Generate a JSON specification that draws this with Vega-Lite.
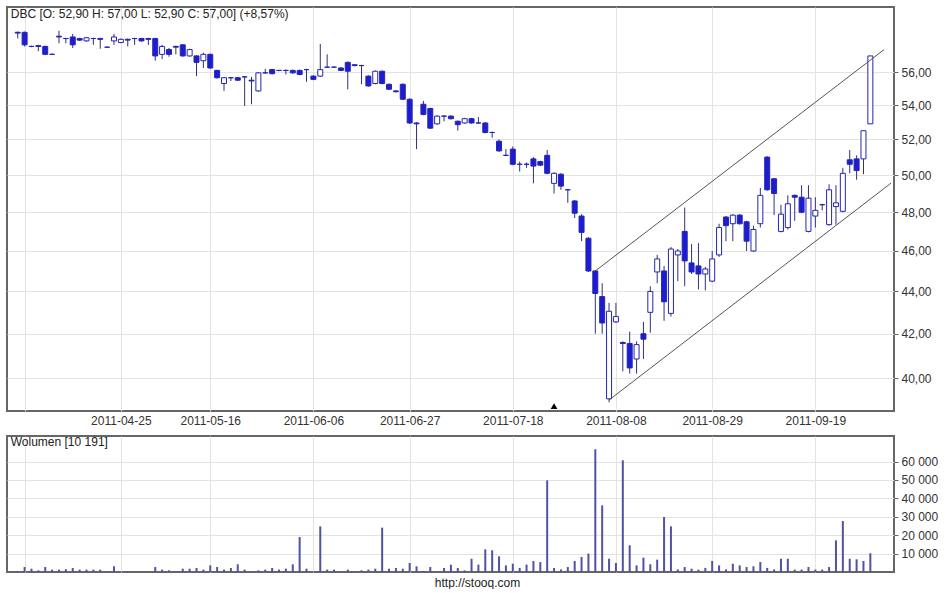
{
"$schema":"https://vega.github.io/schema/vega-lite/v6.json",
"padding":{"left":6,"top":6,"right":0,"bottom":0},
"background":"white",
"spacing":8,
"config":{
 "font":"Liberation Sans",
 "view":{"stroke":"#666666","strokeWidth":2},
 "axis":{"labelFont":"Liberation Sans","labelFontSize":12,"labelColor":"#333333","gridColor":"#e3e3e3","gridWidth":1,"domain":false,"tickColor":"#666666","titleFont":"Liberation Sans","labelOverlap":false}
},
"datasets":{
"px":[
{"date":"2011-04-01","open":58.5,"high":58.55,"low":58.1,"close":58.45,"volume":400},
{"date":"2011-04-04","open":58.5,"high":58.55,"low":57.6,"close":57.7,"volume":2700},
{"date":"2011-04-05","open":57.6,"high":57.65,"low":57.55,"close":57.6,"volume":1800},
{"date":"2011-04-06","open":57.65,"high":57.7,"low":57.3,"close":57.6,"volume":900},
{"date":"2011-04-07","open":57.6,"high":57.65,"low":57.05,"close":57.1,"volume":2700},
{"date":"2011-04-08","open":57.1,"high":57.15,"low":57.05,"close":57.1,"volume":1300},
{"date":"2011-04-11","open":58.25,"high":58.6,"low":57.8,"close":58.2,"volume":1300},
{"date":"2011-04-12","open":58.1,"high":58.15,"low":57.8,"close":58.1,"volume":1500},
{"date":"2011-04-13","open":58.2,"high":58.4,"low":57.5,"close":57.7,"volume":2200},
{"date":"2011-04-14","open":58.1,"high":58.15,"low":57.95,"close":58.0,"volume":1300},
{"date":"2011-04-15","open":57.95,"high":58.2,"low":57.9,"close":58.15,"volume":1300},
{"date":"2011-04-18","open":58.1,"high":58.15,"low":57.7,"close":58.1,"volume":1300},
{"date":"2011-04-19","open":58.1,"high":58.15,"low":57.45,"close":58.05,"volume":1300},
{"date":"2011-04-20","open":57.55,"high":57.6,"low":57.5,"close":57.55,"volume":300},
{"date":"2011-04-21","open":57.95,"high":58.4,"low":57.7,"close":58.2,"volume":3100},
{"date":"2011-04-26","open":57.85,"high":58.1,"low":57.8,"close":58.05,"volume":300},
{"date":"2011-04-27","open":58.05,"high":58.1,"low":57.6,"close":58.0,"volume":300},
{"date":"2011-04-28","open":58.1,"high":58.15,"low":57.7,"close":58.1,"volume":300},
{"date":"2011-04-29","open":58.1,"high":58.15,"low":57.9,"close":57.95,"volume":300},
{"date":"2011-05-02","open":58.1,"high":58.15,"low":57.7,"close":58.05,"volume":300},
{"date":"2011-05-04","open":58.1,"high":58.15,"low":56.7,"close":57.0,"volume":2700},
{"date":"2011-05-05","open":57.1,"high":57.7,"low":56.8,"close":57.6,"volume":1300},
{"date":"2011-05-06","open":57.4,"high":57.5,"low":56.95,"close":57.1,"volume":900},
{"date":"2011-05-09","open":57.6,"high":57.65,"low":57.1,"close":57.55,"volume":300},
{"date":"2011-05-10","open":57.7,"high":57.75,"low":56.95,"close":57.0,"volume":1800},
{"date":"2011-05-11","open":57.0,"high":57.45,"low":56.95,"close":57.4,"volume":1800},
{"date":"2011-05-12","open":57.0,"high":57.05,"low":55.75,"close":56.6,"volume":2200},
{"date":"2011-05-13","open":56.7,"high":57.2,"low":56.25,"close":57.1,"volume":1300},
{"date":"2011-05-16","open":57.1,"high":57.15,"low":56.2,"close":56.25,"volume":3600},
{"date":"2011-05-17","open":56.1,"high":56.15,"low":55.6,"close":55.65,"volume":2700},
{"date":"2011-05-18","open":55.3,"high":55.7,"low":54.85,"close":55.65,"volume":1300},
{"date":"2011-05-19","open":55.65,"high":55.7,"low":55.45,"close":55.65,"volume":2200},
{"date":"2011-05-20","open":55.65,"high":55.7,"low":55.45,"close":55.5,"volume":4200},
{"date":"2011-05-23","open":55.7,"high":55.75,"low":53.95,"close":55.7,"volume":1300},
{"date":"2011-05-24","open":55.5,"high":55.7,"low":54.05,"close":55.45,"volume":300},
{"date":"2011-05-25","open":54.85,"high":56.0,"low":54.8,"close":55.95,"volume":900},
{"date":"2011-05-26","open":55.95,"high":56.2,"low":55.9,"close":55.95,"volume":1300},
{"date":"2011-05-27","open":56.15,"high":56.2,"low":55.85,"close":55.9,"volume":2200},
{"date":"2011-05-30","open":56.1,"high":56.12,"low":56.05,"close":56.1,"volume":1300},
{"date":"2011-05-31","open":56.1,"high":56.15,"low":55.85,"close":56.1,"volume":1800},
{"date":"2011-06-01","open":56.1,"high":56.15,"low":55.9,"close":55.95,"volume":4200},
{"date":"2011-06-02","open":56.1,"high":56.15,"low":55.8,"close":55.85,"volume":19000},
{"date":"2011-06-03","open":56.15,"high":56.2,"low":55.4,"close":56.15,"volume":1800},
{"date":"2011-06-06","open":55.75,"high":55.8,"low":55.5,"close":55.55,"volume":300},
{"date":"2011-06-07","open":55.75,"high":57.75,"low":55.7,"close":56.15,"volume":24800},
{"date":"2011-06-08","open":56.3,"high":57.1,"low":56.25,"close":56.3,"volume":1300},
{"date":"2011-06-09","open":56.3,"high":56.35,"low":56.25,"close":56.3,"volume":1300},
{"date":"2011-06-10","open":56.25,"high":56.3,"low":56.05,"close":56.1,"volume":300},
{"date":"2011-06-13","open":56.6,"high":56.65,"low":54.95,"close":56.05,"volume":1300},
{"date":"2011-06-14","open":56.45,"high":56.5,"low":56.35,"close":56.4,"volume":300},
{"date":"2011-06-15","open":56.4,"high":56.45,"low":55.25,"close":56.4,"volume":900},
{"date":"2011-06-16","open":55.75,"high":55.8,"low":55.1,"close":55.15,"volume":1300},
{"date":"2011-06-17","open":55.3,"high":56.1,"low":55.25,"close":56.05,"volume":1800},
{"date":"2011-06-20","open":56.05,"high":56.1,"low":55.25,"close":55.3,"volume":24100},
{"date":"2011-06-21","open":55.25,"high":55.3,"low":54.9,"close":54.95,"volume":1800},
{"date":"2011-06-22","open":54.85,"high":54.9,"low":54.75,"close":54.8,"volume":2200},
{"date":"2011-06-24","open":55.25,"high":55.3,"low":54.3,"close":54.35,"volume":1800},
{"date":"2011-06-27","open":54.35,"high":54.4,"low":52.9,"close":52.95,"volume":4900},
{"date":"2011-06-28","open":52.95,"high":53.0,"low":51.45,"close":52.9,"volume":3100},
{"date":"2011-06-29","open":54.05,"high":54.25,"low":53.4,"close":53.45,"volume":300},
{"date":"2011-06-30","open":53.8,"high":53.85,"low":52.6,"close":52.65,"volume":2700},
{"date":"2011-07-01","open":52.9,"high":53.4,"low":52.85,"close":53.35,"volume":300},
{"date":"2011-07-04","open":53.35,"high":53.4,"low":53.05,"close":53.35,"volume":2200},
{"date":"2011-07-05","open":53.35,"high":53.4,"low":53.15,"close":53.2,"volume":4000},
{"date":"2011-07-06","open":53.05,"high":53.1,"low":52.5,"close":52.85,"volume":2200},
{"date":"2011-07-07","open":52.95,"high":53.25,"low":52.9,"close":53.2,"volume":900},
{"date":"2011-07-08","open":53.2,"high":53.25,"low":52.9,"close":52.95,"volume":7200},
{"date":"2011-07-11","open":52.95,"high":53.3,"low":52.9,"close":52.95,"volume":4000},
{"date":"2011-07-12","open":52.95,"high":53.0,"low":52.35,"close":52.4,"volume":12300},
{"date":"2011-07-13","open":52.4,"high":52.45,"low":52.1,"close":52.4,"volume":11800},
{"date":"2011-07-14","open":51.9,"high":52.0,"low":51.3,"close":51.35,"volume":8500},
{"date":"2011-07-15","open":51.1,"high":51.45,"low":51.05,"close":51.1,"volume":3600},
{"date":"2011-07-18","open":51.45,"high":51.6,"low":50.55,"close":50.6,"volume":4500},
{"date":"2011-07-19","open":50.6,"high":50.75,"low":50.2,"close":50.6,"volume":2200},
{"date":"2011-07-20","open":50.6,"high":50.7,"low":50.4,"close":50.6,"volume":4000},
{"date":"2011-07-21","open":50.9,"high":51.0,"low":49.55,"close":50.5,"volume":6000},
{"date":"2011-07-22","open":50.75,"high":50.8,"low":50.5,"close":50.55,"volume":5400},
{"date":"2011-07-25","open":51.1,"high":51.4,"low":50.05,"close":50.1,"volume":49800},
{"date":"2011-07-26","open":49.55,"high":50.15,"low":49.0,"close":50.1,"volume":2200},
{"date":"2011-07-27","open":50.05,"high":50.1,"low":49.2,"close":49.4,"volume":1400},
{"date":"2011-07-28","open":49.2,"high":49.25,"low":48.5,"close":49.2,"volume":2700},
{"date":"2011-07-29","open":48.6,"high":48.65,"low":47.7,"close":47.95,"volume":6000},
{"date":"2011-08-01","open":47.8,"high":47.9,"low":46.5,"close":46.95,"volume":8200},
{"date":"2011-08-02","open":46.65,"high":46.7,"low":44.95,"close":45.0,"volume":10000},
{"date":"2011-08-03","open":45.0,"high":45.05,"low":42.0,"close":43.9,"volume":66700},
{"date":"2011-08-04","open":43.75,"high":44.4,"low":42.0,"close":42.5,"volume":36200},
{"date":"2011-08-05","open":39.1,"high":43.45,"low":38.95,"close":43.05,"volume":7200},
{"date":"2011-08-08","open":42.55,"high":43.45,"low":42.5,"close":42.8,"volume":4900},
{"date":"2011-08-09","open":41.6,"high":41.65,"low":40.3,"close":41.55,"volume":60700},
{"date":"2011-08-10","open":41.55,"high":42.1,"low":40.2,"close":40.45,"volume":14500},
{"date":"2011-08-11","open":40.85,"high":41.65,"low":40.2,"close":41.5,"volume":3600},
{"date":"2011-08-12","open":42.0,"high":42.55,"low":40.85,"close":41.75,"volume":7800},
{"date":"2011-08-16","open":43.0,"high":44.25,"low":42.05,"close":44.0,"volume":4200},
{"date":"2011-08-17","open":44.95,"high":45.8,"low":44.4,"close":45.6,"volume":6700},
{"date":"2011-08-18","open":45.0,"high":45.25,"low":42.6,"close":43.5,"volume":29900},
{"date":"2011-08-19","open":42.95,"high":46.2,"low":42.8,"close":46.1,"volume":24800},
{"date":"2011-08-22","open":45.8,"high":46.1,"low":44.5,"close":46.0,"volume":1400},
{"date":"2011-08-23","open":47.0,"high":48.25,"low":44.25,"close":45.5,"volume":2700},
{"date":"2011-08-24","open":45.4,"high":46.35,"low":44.85,"close":44.95,"volume":1800},
{"date":"2011-08-25","open":45.25,"high":46.4,"low":44.1,"close":44.85,"volume":1300},
{"date":"2011-08-26","open":44.85,"high":45.2,"low":44.05,"close":45.1,"volume":2200},
{"date":"2011-08-29","open":44.5,"high":46.0,"low":44.45,"close":45.6,"volume":6000},
{"date":"2011-08-30","open":45.8,"high":47.4,"low":45.7,"close":47.2,"volume":3600},
{"date":"2011-08-31","open":47.75,"high":47.8,"low":46.5,"close":47.3,"volume":1400},
{"date":"2011-09-01","open":47.4,"high":47.9,"low":46.5,"close":47.85,"volume":4500},
{"date":"2011-09-02","open":47.85,"high":47.9,"low":47.35,"close":47.4,"volume":3600},
{"date":"2011-09-05","open":47.5,"high":47.55,"low":46.0,"close":46.5,"volume":2700},
{"date":"2011-09-06","open":46.0,"high":47.3,"low":45.95,"close":47.1,"volume":3100},
{"date":"2011-09-07","open":47.4,"high":49.3,"low":47.2,"close":48.9,"volume":5400},
{"date":"2011-09-08","open":51.0,"high":51.05,"low":49.15,"close":49.2,"volume":2200},
{"date":"2011-09-09","open":49.8,"high":49.85,"low":47.85,"close":49.0,"volume":1400},
{"date":"2011-09-12","open":47.0,"high":48.4,"low":46.95,"close":47.9,"volume":7200},
{"date":"2011-09-13","open":47.2,"high":48.9,"low":47.1,"close":48.45,"volume":7200},
{"date":"2011-09-14","open":48.9,"high":48.95,"low":47.55,"close":48.8,"volume":1300},
{"date":"2011-09-15","open":48.8,"high":49.45,"low":47.95,"close":48.0,"volume":1300},
{"date":"2011-09-16","open":47.0,"high":49.45,"low":46.95,"close":48.75,"volume":2700},
{"date":"2011-09-19","open":47.8,"high":48.8,"low":47.2,"close":48.1,"volume":1300},
{"date":"2011-09-20","open":48.4,"high":48.45,"low":48.1,"close":48.4,"volume":1300},
{"date":"2011-09-21","open":47.35,"high":49.5,"low":47.3,"close":49.2,"volume":2700},
{"date":"2011-09-22","open":48.3,"high":49.45,"low":47.35,"close":48.5,"volume":17200},
{"date":"2011-09-23","open":48.05,"high":50.4,"low":48.0,"close":50.1,"volume":27700},
{"date":"2011-09-26","open":50.85,"high":51.4,"low":50.1,"close":50.6,"volume":7200},
{"date":"2011-09-27","open":50.9,"high":51.1,"low":49.75,"close":50.25,"volume":6900},
{"date":"2011-09-28","open":50.9,"high":52.5,"low":50.05,"close":52.5,"volume":6000},
{"date":"2011-09-29","open":52.9,"high":57.0,"low":52.9,"close":57.0,"volume":10191}
],
"trend":[
{"line":"upper","date":"2011-08-03","price":45.0},
{"line":"upper","date":"2011-10-03","price":57.4},
{"line":"lower","date":"2011-08-05","price":39.05},
{"line":"lower","date":"2011-10-04","price":49.56}
],
"events":[{"date":"2011-07-26","price":38.79}],
"heads":[{"date":"2011-04-01","price":60.15,"volume":73900,"main":"DBC [O: 52,90  H: 57,00  L: 52,90  C: 57,00] (+8,57%)","vol":"Wolumen [10 191]"}]
},
"vconcat":[
{
 "width":887,"height":404,
 "encoding":{
  "x":{"field":"date","type":"ordinal",
   "scale":{"type":"point","padding":1.72,"align":0.78,"domain":["2011-04-01","2011-04-04","2011-04-05","2011-04-06","2011-04-07","2011-04-08","2011-04-11","2011-04-12","2011-04-13","2011-04-14","2011-04-15","2011-04-18","2011-04-19","2011-04-20","2011-04-21","2011-04-26","2011-04-27","2011-04-28","2011-04-29","2011-05-02","2011-05-04","2011-05-05","2011-05-06","2011-05-09","2011-05-10","2011-05-11","2011-05-12","2011-05-13","2011-05-16","2011-05-17","2011-05-18","2011-05-19","2011-05-20","2011-05-23","2011-05-24","2011-05-25","2011-05-26","2011-05-27","2011-05-30","2011-05-31","2011-06-01","2011-06-02","2011-06-03","2011-06-06","2011-06-07","2011-06-08","2011-06-09","2011-06-10","2011-06-13","2011-06-14","2011-06-15","2011-06-16","2011-06-17","2011-06-20","2011-06-21","2011-06-22","2011-06-24","2011-06-27","2011-06-28","2011-06-29","2011-06-30","2011-07-01","2011-07-04","2011-07-05","2011-07-06","2011-07-07","2011-07-08","2011-07-11","2011-07-12","2011-07-13","2011-07-14","2011-07-15","2011-07-18","2011-07-19","2011-07-20","2011-07-21","2011-07-22","2011-07-25","2011-07-26","2011-07-27","2011-07-28","2011-07-29","2011-08-01","2011-08-02","2011-08-03","2011-08-04","2011-08-05","2011-08-08","2011-08-09","2011-08-10","2011-08-11","2011-08-12","2011-08-16","2011-08-17","2011-08-18","2011-08-19","2011-08-22","2011-08-23","2011-08-24","2011-08-25","2011-08-26","2011-08-29","2011-08-30","2011-08-31","2011-09-01","2011-09-02","2011-09-05","2011-09-06","2011-09-07","2011-09-08","2011-09-09","2011-09-12","2011-09-13","2011-09-14","2011-09-15","2011-09-16","2011-09-19","2011-09-20","2011-09-21","2011-09-22","2011-09-23","2011-09-26","2011-09-27","2011-09-28","2011-09-29","2011-09-30","2011-10-03","2011-10-04"]},
   "axis":{"values":["2011-04-04","2011-04-26","2011-05-16","2011-06-06","2011-06-27","2011-07-18","2011-08-08","2011-08-29","2011-09-19"],
    "labelExpr":"datum.value == '2011-04-04' ? '' : (datum.value == '2011-04-26' ? '2011-04-25' : datum.value)",
    "labelAngle":0,"ticks":false,"grid":true,"labelPadding":4,"title":null}},
  "y":{"type":"quantitative","title":null,
     "scale":{"type":"log","domain":[38.58,60.15],"nice":false,"zero":false},
     "axis":{"orient":"right","values":[40,42,44,46,48,50,52,54,56],"labelExpr":"replace(format(datum.value, '.2f'), '.', ',')","grid":true,"tickSize":4,"labelPadding":3,"labelOverlap":false}}
 },
 "layer":[
  {"data":{"name":"px"},"mark":{"type":"rule","color":"#30307a","strokeWidth":1},
   "encoding":{"y":{"field":"low"},"y2":{"field":"high"}}},
  {"data":{"name":"px"},"mark":{"type":"bar","width":5,"stroke":"#2525b5","strokeWidth":1},
   "encoding":{
    "y":{"field":"open"},
    "y2":{"field":"close"},
    "fill":{"condition":{"test":"datum.close > datum.open","value":"#ffffff"},"value":"#1c1cd0"}}},
  {"data":{"name":"trend"},"mark":{"type":"line","color":"#555555","strokeWidth":1,"clip":true},
   "encoding":{"y":{"field":"price"},"detail":{"field":"line"}}},
  {"data":{"name":"events"},"mark":{"type":"point","shape":"triangle-up","filled":true,"color":"#000000","size":45,"opacity":1},
   "encoding":{"y":{"field":"price"}}},
  {"data":{"name":"heads"},"mark":{"type":"text","align":"left","baseline":"top","dx":-7,"dy":2,"fontSize":12,"color":"#222222","font":"Liberation Sans"},
   "encoding":{"y":{"field":"price"},"text":{"field":"main"}}}
 ]
},
{
 "width":887,"height":136,
 "encoding":{
  "x":{"field":"date","type":"ordinal",
   "scale":{"type":"point","padding":1.72,"align":0.78,"domain":["2011-04-01","2011-04-04","2011-04-05","2011-04-06","2011-04-07","2011-04-08","2011-04-11","2011-04-12","2011-04-13","2011-04-14","2011-04-15","2011-04-18","2011-04-19","2011-04-20","2011-04-21","2011-04-26","2011-04-27","2011-04-28","2011-04-29","2011-05-02","2011-05-04","2011-05-05","2011-05-06","2011-05-09","2011-05-10","2011-05-11","2011-05-12","2011-05-13","2011-05-16","2011-05-17","2011-05-18","2011-05-19","2011-05-20","2011-05-23","2011-05-24","2011-05-25","2011-05-26","2011-05-27","2011-05-30","2011-05-31","2011-06-01","2011-06-02","2011-06-03","2011-06-06","2011-06-07","2011-06-08","2011-06-09","2011-06-10","2011-06-13","2011-06-14","2011-06-15","2011-06-16","2011-06-17","2011-06-20","2011-06-21","2011-06-22","2011-06-24","2011-06-27","2011-06-28","2011-06-29","2011-06-30","2011-07-01","2011-07-04","2011-07-05","2011-07-06","2011-07-07","2011-07-08","2011-07-11","2011-07-12","2011-07-13","2011-07-14","2011-07-15","2011-07-18","2011-07-19","2011-07-20","2011-07-21","2011-07-22","2011-07-25","2011-07-26","2011-07-27","2011-07-28","2011-07-29","2011-08-01","2011-08-02","2011-08-03","2011-08-04","2011-08-05","2011-08-08","2011-08-09","2011-08-10","2011-08-11","2011-08-12","2011-08-16","2011-08-17","2011-08-18","2011-08-19","2011-08-22","2011-08-23","2011-08-24","2011-08-25","2011-08-26","2011-08-29","2011-08-30","2011-08-31","2011-09-01","2011-09-02","2011-09-05","2011-09-06","2011-09-07","2011-09-08","2011-09-09","2011-09-12","2011-09-13","2011-09-14","2011-09-15","2011-09-16","2011-09-19","2011-09-20","2011-09-21","2011-09-22","2011-09-23","2011-09-26","2011-09-27","2011-09-28","2011-09-29","2011-09-30","2011-10-03","2011-10-04"]},
   "axis":{"values":["2011-04-04","2011-04-26","2011-05-16","2011-06-06","2011-06-27","2011-07-18","2011-08-08","2011-08-29","2011-09-19"],
    "labels":false,"ticks":false,"grid":true,
    "title":"http://stooq.com","titleX":470,"titleAlign":"center","titleFontSize":12,"titleFontWeight":"normal","titleColor":"#222222","titlePadding":5}},
  "y":{"field":"volume","type":"quantitative","title":null,
     "scale":{"domain":[0,73900],"nice":false},
     "axis":{"orient":"right","values":[10000,20000,30000,40000,50000,60000],"labelExpr":"replace(format(datum.value, ','), ',', ' ')","grid":true,"tickSize":4,"labelPadding":3,"labelOverlap":false}}
 },
 "layer":[
  {"data":{"name":"px"},"mark":{"type":"rule","strokeWidth":2,"color":"#5252a3"},
   "encoding":{"y2":{"datum":0}}},
  {"data":{"name":"heads"},"mark":{"type":"text","align":"left","baseline":"top","dx":-7,"dy":1,"fontSize":12,"color":"#222222","font":"Liberation Sans"},
   "encoding":{"text":{"field":"vol"}}}
 ]
}
]
}
